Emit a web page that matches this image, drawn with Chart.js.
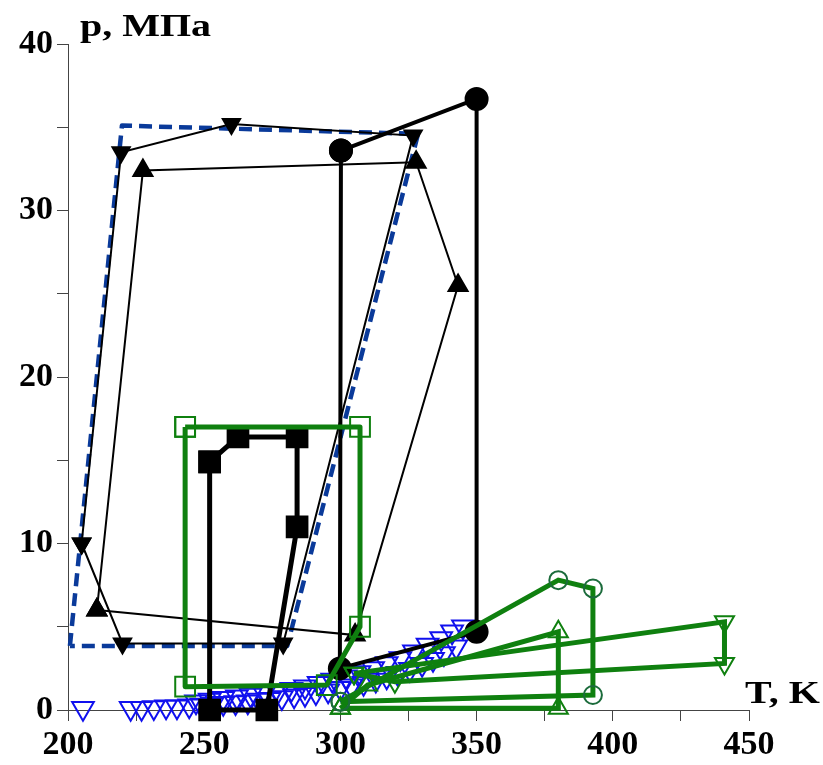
<!DOCTYPE html>
<html>
<head>
<meta charset="utf-8">
<script src="https://cdn.jsdelivr.net/npm/chart.js@4.4.0/dist/chart.umd.min.js"></script>
<style>
html, body { margin: 0; padding: 0; background: #fff; }
#wrap { width: 823px; height: 765px; position: relative; }
</style>
</head>
<body>
<div id="wrap"><canvas id="chart"></canvas></div>
<script>
// axis ranges and labelled ticks
var tMin = 200, tMax = 450, tStep = 25;
var pMin = 0, pMax = 40, pStep = 5;
var tLabels = [200, 250, 300, 350, 400, 450];
var pLabels = [0, 10, 20, 30, 40];

// black filled down triangles, thin line
var dnT = [205, 219.5, 260, 326.7, 279, 220, 205];
var dnP = [10.0, 33.5, 35.2, 34.5, 4.0, 4.0, 10.0];
// black filled up triangles, thin line
var upT = [210.6, 227.5, 327.8, 343.2, 305.4, 210.6];
var upP = [6.0, 32.4, 32.9, 25.5, 4.5, 6.0];
// blue dashed contour
var dashT = [200.7, 219.8, 328.5, 280.5, 200.7];
var dashP = [3.85, 35.1, 34.6, 3.85, 3.85];
// black circles, thick line
var circT = [300.2, 350, 350, 299.8, 300.2];
var circP = [33.6, 36.7, 4.7, 2.5, 33.6];
// black squares, thick line
var sqT = [252, 262.4, 284.1, 284.1, 273, 252, 252];
var sqP = [14.9, 16.4, 16.4, 11.0, 0, 0, 14.9];
// green open squares
var gSqT = [243, 307.2, 307.2, 295, 243, 243];
var gSqP = [17, 17, 5, 1.5, 1.4, 17];
// green open circles
var gCircT = [300, 380, 392.7, 392.7, 300];
var gCircP = [0.5, 7.8, 7.3, 0.9, 0.5];
// green open up triangles
var gUpT = [300, 310, 380, 380, 300];
var gUpP = [0.1, 1.5, 4.7, 0.1, 0.1];
// green open down triangles
var gDnT = [305, 441, 441, 320, 305];
var gDnP = [2.2, 5.3, 2.8, 1.7, 2.2];
// blue open down triangles (markers only), lower run
var bluAT = [205.5, 223, 227, 231.5, 236, 240, 244.5, 249, 253, 257, 261.5, 266, 270, 274, 278.5,
             283, 287, 291, 295.5, 300, 304, 308.5, 313, 317, 321, 325.5, 330, 334, 338, 342.5];
var bluAP = [0.1, 0.1, 0.1, 0.15, 0.2, 0.2, 0.25, 0.3, 0.35, 0.4, 0.45, 0.5, 0.6, 0.65, 0.75,
             0.85, 0.95, 1.05, 1.15, 1.3, 1.45, 1.6, 1.8, 2.0, 2.2, 2.45, 2.75, 3.05, 3.4, 3.8];
// blue open down triangles, upper run
var bluBT = [247, 252, 257, 262, 267, 272, 277, 282, 287, 292, 297, 302, 307, 312, 317, 322, 327, 332, 337, 341, 345];
var bluBP = [0.5, 0.6, 0.7, 0.8, 0.9, 1.0, 1.1, 1.25, 1.4, 1.6, 1.8, 2.0, 2.25, 2.5, 2.8, 3.1, 3.5, 3.9, 4.3, 4.7, 5.0];

function pts(xs, ys) {
    return xs.map(function(x, i) { return {x: x, y: ys[i]}; });
}

var green = '#0f800f';
var blue = '#1010ee';
var serif = '"Liberation Serif", "Times New Roman", serif';

// axis titles drawn a bit wide, like the original
var axisTitles = {
    id: 'axisTitles',
    afterDraw: function(chart) {
        var ctx = chart.ctx;
        ctx.save();
        ctx.fillStyle = '#000';
        ctx.font = 'bold 32px ' + serif;
        ctx.textBaseline = 'alphabetic';
        [['p, МПа', 80, 36], ['T, K', 745, 703]].forEach(function(t) {
            ctx.save();
            ctx.translate(t[1], t[2]);
            ctx.scale(1.25, 1);
            ctx.fillText(t[0], 0, 0);
            ctx.restore();
        });
        ctx.restore();
    }
};

function tickFont() {
    return {family: serif, size: 34, weight: 'bold'};
}

var chart = new Chart('chart', {
    type: 'scatter',
    data: {
        datasets: [
            {data: pts(gCircT, gCircP), showLine: true, borderColor: green, borderWidth: 5,
             pointStyle: 'circle', pointRadius: 9, pointBorderColor: '#1b6b3b', pointBorderWidth: 2,
             pointBackgroundColor: 'rgba(0,0,0,0)', order: 1, clip: false},
            {data: pts(gUpT, gUpP), showLine: true, borderColor: green, borderWidth: 5,
             pointStyle: 'triangle', pointRadius: 11, pointBorderColor: green, pointBorderWidth: 2,
             pointBackgroundColor: 'rgba(0,0,0,0)', order: 1, clip: false},
            {data: pts(gDnT, gDnP), showLine: true, borderColor: green, borderWidth: 5,
             pointStyle: 'triangle', pointRotation: 180, pointRadius: 11, pointBorderColor: green,
             pointBorderWidth: 2, pointBackgroundColor: 'rgba(0,0,0,0)', order: 1, clip: false},
            {data: pts(gSqT, gSqP), showLine: true, borderColor: green, borderWidth: 5,
             borderJoinStyle: 'round', pointStyle: 'rect', pointRadius: 14, pointBorderColor: green,
             pointBorderWidth: 2, pointBackgroundColor: 'rgba(0,0,0,0)', order: 1, clip: false},
            {data: pts(circT, circP), showLine: true, borderColor: '#000', borderWidth: 4,
             pointStyle: 'circle', pointRadius: 10, pointBackgroundColor: '#000', pointBorderColor: '#000',
             order: 2, clip: false},
            {data: pts(sqT, sqP), showLine: true, borderColor: '#000', borderWidth: 5,
             pointStyle: 'rect', pointRadius: 12.5, pointBackgroundColor: '#000', pointBorderColor: '#000',
             order: 2, clip: false},
            {data: pts(upT, upP), showLine: true, borderColor: '#000', borderWidth: 2,
             pointStyle: 'triangle', pointRadius: 11, pointBackgroundColor: '#000', pointBorderColor: '#000',
             order: 2, clip: false},
            {data: pts(dnT, dnP), showLine: true, borderColor: '#000', borderWidth: 2,
             pointStyle: 'triangle', pointRotation: 180, pointRadius: 10, pointBackgroundColor: '#000',
             pointBorderColor: '#000', order: 2, clip: false},
            {data: pts(dashT, dashP), showLine: true, borderColor: '#0a3a9a', borderWidth: 4.5,
             borderDash: [13, 7], borderJoinStyle: 'round', pointRadius: 0, order: 3, clip: false},
            {data: pts(bluAT, bluAP), showLine: false, pointStyle: 'triangle', pointRotation: 180,
             pointRadius: 12.5, pointBorderColor: blue, pointBorderWidth: 2,
             pointBackgroundColor: 'rgba(0,0,0,0)', order: 4, clip: false},
            {data: pts(bluBT, bluBP), showLine: false, pointStyle: 'triangle', pointRotation: 180,
             pointRadius: 12.5, pointBorderColor: blue, pointBorderWidth: 2,
             pointBackgroundColor: 'rgba(0,0,0,0)', order: 4, clip: false}
        ]
    },
    options: {
        responsive: true,
        maintainAspectRatio: false,
        animation: false,
        layout: {padding: {top: 44, right: 74, left: 0, bottom: 0}},
        plugins: {legend: {display: false}, tooltip: {enabled: false}},
        elements: {line: {tension: 0}},
        scales: {
            x: {
                type: 'linear', min: tMin, max: tMax,
                afterFit: function(s) { s.height = 55; },
                ticks: {
                    stepSize: tStep, autoSkip: false, maxRotation: 0, padding: 4,
                    color: '#000', font: tickFont(),
                    callback: function(v) { return tLabels.indexOf(v) >= 0 ? String(v) : ''; }
                },
                grid: {drawOnChartArea: false, drawTicks: true, tickLength: 11, color: '#444'},
                border: {color: '#444', width: 1}
            },
            y: {
                type: 'linear', min: pMin, max: pMax,
                afterFit: function(s) { s.width = 68; },
                ticks: {
                    stepSize: pStep, autoSkip: false, padding: 4,
                    color: '#000', font: tickFont(),
                    callback: function(v) { return pLabels.indexOf(v) >= 0 ? String(v) : ''; }
                },
                grid: {drawOnChartArea: false, drawTicks: true, tickLength: 11, color: '#444'},
                border: {color: '#444', width: 1}
            }
        }
    },
    plugins: [axisTitles]
});
</script>
</body>
</html>
